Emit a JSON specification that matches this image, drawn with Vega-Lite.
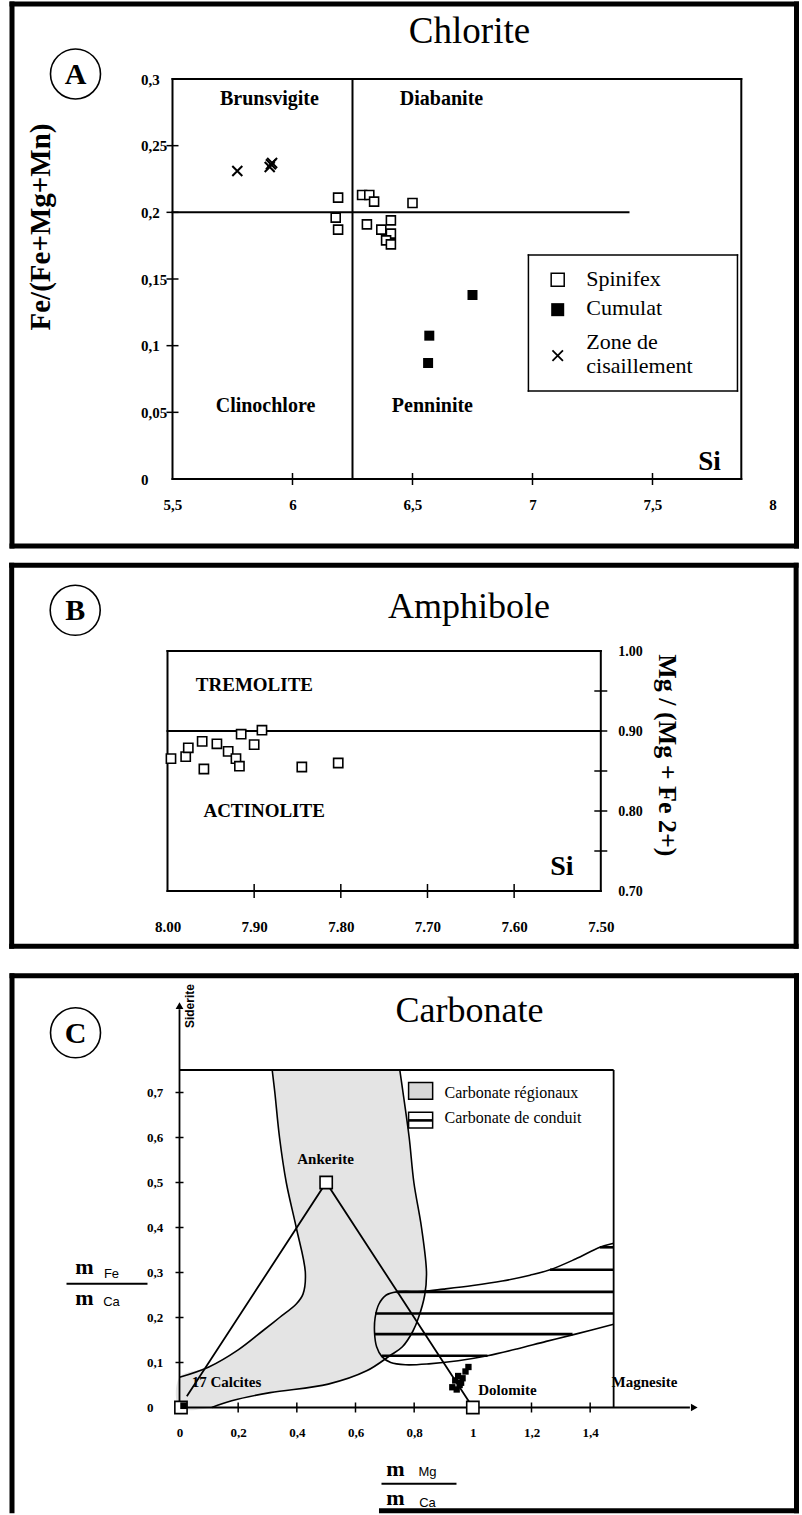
{
"$schema": "https://vega.github.io/schema/vega-lite/v6.json",
"background": "white",
"padding": {"left": 7.5, "top": 0, "right": 0, "bottom": 0},
"spacing": 11,
"config": {"view": {"stroke": null}, "font": "Liberation Serif"},
"datasets": {
"a_rules": [
{"x":4.8313,"y":0.35625,"x2":8.1,"y2":0.35625,"role":"frame"},
{"x":4.8313,"y":-0.05025,"x2":8.1,"y2":-0.05025,"role":"frame"},
{"x":4.8313,"y":0.35625,"x2":4.8313,"y2":-0.05025,"role":"frame"},
{"x":8.1,"y":0.35625,"x2":8.1,"y2":-0.05025,"role":"frame"},
{"x":5.5,"y":0,"x2":7.87,"y2":0,"role":"plot"},
{"x":5.5,"y":0.3,"x2":7.87,"y2":0.3,"role":"plot"},
{"x":5.5,"y":0,"x2":5.5,"y2":0.3,"role":"plot"},
{"x":7.87,"y":0,"x2":7.87,"y2":0.3,"role":"plot"},
{"x":6.25,"y":0,"x2":6.25,"y2":0.3,"role":"plot"},
{"x":5.5,"y":0.2,"x2":7.4,"y2":0.2,"role":"plot"},
{"x":6.983,"y":0.066,"x2":7.854,"y2":0.066,"role":"legend"},
{"x":6.983,"y":0.168,"x2":7.854,"y2":0.168,"role":"legend"},
{"x":6.983,"y":0.066,"x2":6.983,"y2":0.168,"role":"legend"},
{"x":7.854,"y":0.066,"x2":7.854,"y2":0.168,"role":"legend"}
],
"a_ticks": [
{"x":6,"y":0,"dir":"v"},{"x":6.5,"y":0,"dir":"v"},{"x":7,"y":0,"dir":"v"},{"x":7.5,"y":0,"dir":"v"},
{"x":5.5,"y":0.05,"dir":"h"},{"x":5.5,"y":0.1,"dir":"h"},{"x":5.5,"y":0.15,"dir":"h"},{"x":5.5,"y":0.2,"dir":"h"},{"x":5.5,"y":0.25,"dir":"h"}
],
"a_pts": [
{"x":6.19,"y":0.211,"group":"Spinifex","role":"data"},
{"x":6.18,"y":0.196,"group":"Spinifex","role":"data"},
{"x":6.19,"y":0.187,"group":"Spinifex","role":"data"},
{"x":6.29,"y":0.213,"group":"Spinifex","role":"data"},
{"x":6.32,"y":0.213,"group":"Spinifex","role":"data"},
{"x":6.34,"y":0.208,"group":"Spinifex","role":"data"},
{"x":6.50,"y":0.207,"group":"Spinifex","role":"data"},
{"x":6.31,"y":0.191,"group":"Spinifex","role":"data"},
{"x":6.37,"y":0.187,"group":"Spinifex","role":"data"},
{"x":6.41,"y":0.194,"group":"Spinifex","role":"data"},
{"x":6.41,"y":0.184,"group":"Spinifex","role":"data"},
{"x":6.39,"y":0.179,"group":"Spinifex","role":"data"},
{"x":6.41,"y":0.176,"group":"Spinifex","role":"data"},
{"x":6.75,"y":0.138,"group":"Cumulat","role":"data"},
{"x":6.57,"y":0.1075,"group":"Cumulat","role":"data"},
{"x":6.565,"y":0.087,"group":"Cumulat","role":"data"},
{"x":5.77,"y":0.231,"group":"Zone","role":"data"},
{"x":5.91,"y":0.236,"group":"Zone","role":"data"},
{"x":5.915,"y":0.237,"group":"Zone","role":"data"},
{"x":5.905,"y":0.234,"group":"Zone","role":"data"},
{"x":7.105,"y":0.1495,"group":"Spinifex","role":"legend"},
{"x":7.105,"y":0.127,"group":"Cumulat","role":"legend"},
{"x":7.105,"y":0.0925,"group":"Zone","role":"legend"}
],
"a_text": [
{"x":6.7375,"y":0.3353,"label":"Chlorite","role":"title"},
{"x":5.0958,"y":0.3038,"label":"A","role":"panel"},
{"x":5.904,"y":0.285,"label":"Brunsvigite","role":"region"},
{"x":6.621,"y":0.285,"label":"Diabanite","role":"region"},
{"x":5.8875,"y":0.0548,"label":"Clinochlore","role":"region"},
{"x":6.583,"y":0.0548,"label":"Penninite","role":"region"},
{"x":7.7375,"y":0.0128,"label":"Si","role":"var"},
{"x":4.954,"y":0.189,"label":"Fe/(Fe+Mg+Mn)","role":"ytitle"},
{"x":7.224,"y":0.15,"label":"Spinifex","role":"legend"},
{"x":7.224,"y":0.128,"label":"Cumulat","role":"legend"},
{"x":7.224,"y":0.10275,"label":"Zone de","role":"legend"},
{"x":7.224,"y":0.08475,"label":"cisaillement","role":"legend"}
],
"b_rules": [
{"x":8.1798,"y":1.1071,"x2":7.2746,"y2":1.1071,"role":"frame"},
{"x":8.1798,"y":0.6309,"x2":7.2746,"y2":0.6309,"role":"frame"},
{"x":8.1798,"y":1.1071,"x2":8.1798,"y2":0.6309,"role":"frame"},
{"x":7.2746,"y":1.1071,"x2":7.2746,"y2":0.6309,"role":"frame"},
{"x":8.0,"y":1.0,"x2":7.5,"y2":1.0,"role":"plot"},
{"x":8.0,"y":0.7,"x2":7.5,"y2":0.7,"role":"plot"},
{"x":8.0,"y":0.7,"x2":8.0,"y2":1.0,"role":"plot"},
{"x":7.5,"y":0.7,"x2":7.5,"y2":1.0,"role":"plot"},
{"x":8.0,"y":0.9,"x2":7.5,"y2":0.9,"role":"plot"}
],
"b_ticks": [
{"x":7.9,"y":0.7,"dir":"v"},{"x":7.8,"y":0.7,"dir":"v"},{"x":7.7,"y":0.7,"dir":"v"},{"x":7.6,"y":0.7,"dir":"v"},
{"x":7.5,"y":0.75,"dir":"h"},{"x":7.5,"y":0.8,"dir":"h"},{"x":7.5,"y":0.85,"dir":"h"},{"x":7.5,"y":0.9,"dir":"h"},{"x":7.5,"y":0.95,"dir":"h"}
],
"b_pts": [
{"x":7.996,"y":0.8655},{"x":7.979,"y":0.868},{"x":7.976,"y":0.879},{"x":7.960,"y":0.887},
{"x":7.943,"y":0.884},{"x":7.958,"y":0.8525},{"x":7.930,"y":0.8746},{"x":7.921,"y":0.8655},
{"x":7.917,"y":0.856},{"x":7.915,"y":0.896},{"x":7.900,"y":0.883},{"x":7.891,"y":0.901},
{"x":7.845,"y":0.855},{"x":7.803,"y":0.86}
],
"b_text": [
{"x":7.652,"y":1.0546,"label":"Amphibole","role":"title"},
{"x":8.1065,"y":1.0509,"label":"B","role":"panel"},
{"x":7.8997,"y":0.9571,"label":"TREMOLITE","role":"region"},
{"x":7.8885,"y":0.7999,"label":"ACTINOLITE","role":"region"},
{"x":7.5449,"y":0.73,"label":"Si","role":"var"},
{"x":7.4234,"y":0.8696,"label":"Mg / (Mg + Fe 2+)","role":"ytitle"}
],
"c_rules": [
{"x":-0.571,"y":0.9593,"x2":2.1034,"y2":0.9593,"role":"frame"},
{"x":-0.571,"y":0.9593,"x2":-0.571,"y2":-0.2296,"role":"frame"},
{"x":2.1034,"y":0.9593,"x2":2.1034,"y2":-0.2296,"role":"frame"},
{"x":0.6886,"y":-0.2296,"x2":2.1034,"y2":-0.2296,"role":"frame"},
{"x":0,"y":0.99044,"x2":0.1,"y2":0.99044,"role":"spacer"},
{"x":0,"y":0.75,"x2":1.48,"y2":0.75,"role":"plot"},
{"x":1.48,"y":0,"x2":1.48,"y2":0.75,"role":"plot"},
{"x":0,"y":0,"x2":0,"y2":0.885,"role":"plot"},
{"x":0,"y":0,"x2":1.74,"y2":0,"role":"plot"},
{"x":0.74,"y":0.257,"x2":1.48,"y2":0.257,"role":"stripe"},
{"x":0.667,"y":0.209,"x2":1.48,"y2":0.209,"role":"stripe"},
{"x":0.665,"y":0.163,"x2":1.34,"y2":0.163,"role":"stripe"},
{"x":0.69,"y":0.115,"x2":1.05,"y2":0.115,"role":"stripe"},
{"x":1.263,"y":0.306,"x2":1.48,"y2":0.306,"role":"stripe"},
{"x":1.433,"y":0.356,"x2":1.48,"y2":0.356,"role":"stripe"},
{"x":0.781,"y":0.638,"x2":0.863,"y2":0.638,"role":"stripe"},
{"x":-0.3852,"y":0.2749,"x2":-0.1091,"y2":0.2749,"role":"frac"},
{"x":0.6886,"y":-0.1696,"x2":0.9443,"y2":-0.1696,"role":"frac"}
],
"c_boxes": [
{"x":0.781,"x2":0.863,"y":0.685,"y2":0.722,"kind":"regional"},
{"x":0.781,"x2":0.863,"y":0.621,"y2":0.656,"kind":"conduit"}
],
"c_ticks": [
{"x":0.2,"y":0,"dir":"v"},{"x":0.4,"y":0,"dir":"v"},{"x":0.6,"y":0,"dir":"v"},{"x":0.8,"y":0,"dir":"v"},{"x":1.0,"y":0,"dir":"v"},{"x":1.2,"y":0,"dir":"v"},{"x":1.4,"y":0,"dir":"v"},
{"x":0,"y":0.1,"dir":"h"},{"x":0,"y":0.2,"dir":"h"},{"x":0,"y":0.3,"dir":"h"},{"x":0,"y":0.4,"dir":"h"},{"x":0,"y":0.5,"dir":"h"},{"x":0,"y":0.6,"dir":"h"},{"x":0,"y":0.7,"dir":"h"}
],
"c_lines": [
{"curve":"region","i":0,"x":0.316,"y":0.75},{"curve":"region","i":1,"x":0.325,"y":0.7},{"curve":"region","i":2,"x":0.341,"y":0.6},
{"curve":"region","i":3,"x":0.364,"y":0.5},{"curve":"region","i":4,"x":0.398,"y":0.4},{"curve":"region","i":5,"x":0.429,"y":0.3},
{"curve":"region","i":6,"x":0.421,"y":0.252},{"curve":"region","i":7,"x":0.398,"y":0.23},{"curve":"region","i":8,"x":0.341,"y":0.2},
{"curve":"region","i":9,"x":0.283,"y":0.17},{"curve":"region","i":10,"x":0.2,"y":0.128},{"curve":"region","i":11,"x":0.1,"y":0.09},
{"curve":"region","i":12,"x":0,"y":0.067},{"curve":"region","i":13,"x":0,"y":0},{"curve":"region","i":14,"x":0.11,"y":0},
{"curve":"region","i":15,"x":0.178,"y":0.015},{"curve":"region","i":16,"x":0.309,"y":0.033},{"curve":"region","i":17,"x":0.507,"y":0.052},
{"curve":"region","i":18,"x":0.638,"y":0.0815},{"curve":"region","i":19,"x":0.717,"y":0.115},{"curve":"region","i":20,"x":0.76,"y":0.135},
{"curve":"region","i":21,"x":0.796,"y":0.17},{"curve":"region","i":22,"x":0.815,"y":0.2},{"curve":"region","i":23,"x":0.836,"y":0.25},
{"curve":"region","i":24,"x":0.842,"y":0.3},{"curve":"region","i":25,"x":0.825,"y":0.4},{"curve":"region","i":26,"x":0.799,"y":0.5},
{"curve":"region","i":27,"x":0.783,"y":0.6},{"curve":"region","i":28,"x":0.762,"y":0.7},{"curve":"region","i":29,"x":0.751,"y":0.75},
{"curve":"left","i":0,"x":0.316,"y":0.75},{"curve":"left","i":1,"x":0.325,"y":0.7},{"curve":"left","i":2,"x":0.341,"y":0.6},
{"curve":"left","i":3,"x":0.364,"y":0.5},{"curve":"left","i":4,"x":0.398,"y":0.4},{"curve":"left","i":5,"x":0.429,"y":0.3},
{"curve":"left","i":6,"x":0.421,"y":0.252},{"curve":"left","i":7,"x":0.398,"y":0.23},{"curve":"left","i":8,"x":0.341,"y":0.2},
{"curve":"left","i":9,"x":0.283,"y":0.17},{"curve":"left","i":10,"x":0.2,"y":0.128},{"curve":"left","i":11,"x":0.1,"y":0.09},
{"curve":"left","i":12,"x":0,"y":0.067},
{"curve":"right","i":0,"x":0.11,"y":0},{"curve":"right","i":1,"x":0.178,"y":0.015},{"curve":"right","i":2,"x":0.309,"y":0.033},
{"curve":"right","i":3,"x":0.507,"y":0.052},{"curve":"right","i":4,"x":0.638,"y":0.0815},{"curve":"right","i":5,"x":0.717,"y":0.115},
{"curve":"right","i":6,"x":0.76,"y":0.135},{"curve":"right","i":7,"x":0.796,"y":0.17},{"curve":"right","i":8,"x":0.815,"y":0.2},
{"curve":"right","i":9,"x":0.836,"y":0.25},{"curve":"right","i":10,"x":0.842,"y":0.3},{"curve":"right","i":11,"x":0.825,"y":0.4},
{"curve":"right","i":12,"x":0.799,"y":0.5},{"curve":"right","i":13,"x":0.783,"y":0.6},{"curve":"right","i":14,"x":0.762,"y":0.7},
{"curve":"right","i":15,"x":0.751,"y":0.75},
{"curve":"conduit","i":0,"x":1.48,"y":0.365},{"curve":"conduit","i":1,"x":1.433,"y":0.356},{"curve":"conduit","i":2,"x":1.35,"y":0.33},
{"curve":"conduit","i":3,"x":1.263,"y":0.306},{"curve":"conduit","i":4,"x":1.195,"y":0.294},{"curve":"conduit","i":5,"x":1.1,"y":0.281},
{"curve":"conduit","i":6,"x":1.0,"y":0.271},{"curve":"conduit","i":7,"x":0.9,"y":0.263},{"curve":"conduit","i":8,"x":0.83,"y":0.258},
{"curve":"conduit","i":9,"x":0.74,"y":0.257},{"curve":"conduit","i":10,"x":0.705,"y":0.25},{"curve":"conduit","i":11,"x":0.68,"y":0.23},
{"curve":"conduit","i":12,"x":0.667,"y":0.2},{"curve":"conduit","i":13,"x":0.665,"y":0.165},{"curve":"conduit","i":14,"x":0.672,"y":0.135},
{"curve":"conduit","i":15,"x":0.69,"y":0.113},{"curve":"conduit","i":16,"x":0.72,"y":0.1},{"curve":"conduit","i":17,"x":0.77,"y":0.095},
{"curve":"conduit","i":18,"x":0.85,"y":0.097},{"curve":"conduit","i":19,"x":0.95,"y":0.104},{"curve":"conduit","i":20,"x":1.05,"y":0.115},
{"curve":"conduit","i":21,"x":1.15,"y":0.13},{"curve":"conduit","i":22,"x":1.25,"y":0.147},{"curve":"conduit","i":23,"x":1.35,"y":0.163},
{"curve":"conduit","i":24,"x":1.48,"y":0.185},
{"curve":"tri","i":0,"x":0.025,"y":0.025},{"curve":"tri","i":1,"x":0.5,"y":0.5},{"curve":"tri","i":2,"x":1.0,"y":0.0}
],
"c_pts": [
{"x":0.93,"y":0.045,"kind":"filled"},{"x":0.94,"y":0.06,"kind":"filled"},{"x":0.955,"y":0.05,"kind":"filled"},
{"x":0.95,"y":0.07,"kind":"filled"},{"x":0.965,"y":0.065,"kind":"filled"},{"x":0.975,"y":0.08,"kind":"filled"},
{"x":0.945,"y":0.04,"kind":"filled"},{"x":0.96,"y":0.055,"kind":"filled"},{"x":0.985,"y":0.09,"kind":"filled"},
{"x":0.5,"y":0.5,"kind":"open"},{"x":1.0,"y":0.0,"kind":"open"},{"x":0.005,"y":0.0,"kind":"open"},
{"x":0.014,"y":0.004,"kind":"calcite"},
{"x":0,"y":0.893,"kind":"up"},{"x":1.755,"y":0,"kind":"right"}
],
"c_text": [
{"x":0.9887,"y":0.881,"label":"Carbonate","role":"title"},
{"x":-0.3545,"y":0.8327,"label":"C","role":"panel"},
{"x":0.0341,"y":0.892,"label":"Siderite","role":"side"},
{"x":0.498,"y":0.552,"label":"Ankerite","role":"mineral"},
{"x":0.16,"y":0.057,"label":"17 Calcites","role":"mineral"},
{"x":1.118,"y":0.039,"label":"Dolomite","role":"mineral"},
{"x":1.585,"y":0.057,"label":"Magnesite","role":"mineral"},
{"x":0.9035,"y":0.70,"label":"Carbonate régionaux","role":"legend"},
{"x":0.9035,"y":0.644,"label":"Carbonate de conduit","role":"legend"},
{"x":-0.3239,"y":0.3118,"label":"m","role":"fm"},
{"x":-0.3239,"y":0.2433,"label":"m","role":"fm"},
{"x":0.7364,"y":-0.1362,"label":"m","role":"fm"},
{"x":0.7364,"y":-0.2007,"label":"m","role":"fm"},
{"x":-0.2318,"y":0.2962,"label":"Fe","role":"fs"},
{"x":-0.2318,"y":0.2344,"label":"Ca","role":"fs"},
{"x":0.8455,"y":-0.1429,"label":"Mg","role":"fs"},
{"x":0.8455,"y":-0.2118,"label":"Ca","role":"fs"}
]
},
"vconcat": [
{
"width": 605, "height": 400,
"encoding": {
"x": {"field": "x", "type": "quantitative", "scale": {"domain": [5.47917, 8], "nice": false, "zero": false},
"axis": {"title": null, "values": [5.5,6,6.5,7,7.5,8], "ticks": false, "domain": false, "grid": false,
"labelExpr": "replace(format(datum.value, '.2~f'), '.', ',')", "labelFont": "Liberation Serif", "labelFontWeight": "bold",
"labelFontSize": 15, "labelColor": "black", "labelPadding": 18, "labelFlush": false, "labelOverlap": false}},
"y": {"field": "y", "type": "quantitative", "scale": {"domain": [0, 0.3], "nice": false, "zero": false},
"axis": {"title": null, "values": [0,0.05,0.1,0.15,0.2,0.25,0.3], "ticks": false, "domain": false, "grid": false,
"labelExpr": "replace(format(datum.value, '.2~f'), '.', ',')", "labelFont": "Liberation Serif", "labelFontWeight": "bold",
"labelFontSize": 15, "labelColor": "black", "labelAlign": "left", "labelPadding": 27, "labelFlush": false, "labelOverlap": false}}
},
"layer": [
{"data": {"name": "a_rules"}, "transform": [{"filter": "datum.role == 'frame'"}],
 "mark": {"type": "rule", "color": "black", "strokeWidth": 5, "strokeCap": "square"},
 "encoding": {"x2": {"field": "x2"}, "y2": {"field": "y2"}}},
{"data": {"name": "a_rules"}, "transform": [{"filter": "datum.role == 'plot'"}],
 "mark": {"type": "rule", "color": "black", "strokeWidth": 2, "strokeCap": "square"},
 "encoding": {"x2": {"field": "x2"}, "y2": {"field": "y2"}}},
{"data": {"name": "a_rules"}, "transform": [{"filter": "datum.role == 'legend'"}],
 "mark": {"type": "rule", "color": "black", "strokeWidth": 1.5, "strokeCap": "square"},
 "encoding": {"x2": {"field": "x2"}, "y2": {"field": "y2"}}},
{"data": {"name": "a_ticks"}, "transform": [{"filter": "datum.dir == 'v'"}],
 "mark": {"type": "tick", "orient": "vertical", "size": 12, "thickness": 1.5, "color": "black", "opacity": 1}},
{"data": {"name": "a_ticks"}, "transform": [{"filter": "datum.dir == 'h'"}],
 "mark": {"type": "tick", "orient": "horizontal", "size": 12, "thickness": 1.5, "color": "black", "opacity": 1}},
{"data": {"name": "a_pts"}, "transform": [{"filter": "datum.group == 'Spinifex' && datum.role == 'data'"}],
 "mark": {"type": "point", "shape": "square", "size": 81, "filled": true, "fill": "white", "stroke": "black", "strokeWidth": 1.6, "opacity": 1}},
{"data": {"name": "a_pts"}, "transform": [{"filter": "datum.group == 'Cumulat' && datum.role == 'data'"}],
 "mark": {"type": "point", "shape": "square", "size": 100, "filled": true, "color": "black", "opacity": 1}},
{"data": {"name": "a_pts"}, "transform": [{"filter": "datum.group == 'Zone' && datum.role == 'data'"}],
 "mark": {"type": "point", "shape": "M-1,-1L1,1M-1,1L1,-1", "size": 100, "filled": false, "stroke": "black", "strokeWidth": 2, "opacity": 1}},
{"data": {"name": "a_pts"}, "transform": [{"filter": "datum.group == 'Spinifex' && datum.role == 'legend'"}],
 "mark": {"type": "point", "shape": "square", "size": 170, "filled": true, "fill": "white", "stroke": "black", "strokeWidth": 1.5, "opacity": 1}},
{"data": {"name": "a_pts"}, "transform": [{"filter": "datum.group == 'Cumulat' && datum.role == 'legend'"}],
 "mark": {"type": "point", "shape": "square", "size": 170, "filled": true, "color": "black", "opacity": 1}},
{"data": {"name": "a_pts"}, "transform": [{"filter": "datum.group == 'Zone' && datum.role == 'legend'"}],
 "mark": {"type": "point", "shape": "M-1,-1L1,1M-1,1L1,-1", "size": 110, "filled": false, "stroke": "black", "strokeWidth": 1.8, "opacity": 1}},
{"data": {"name": "a_text"}, "transform": [{"filter": "datum.role == 'panel'"}],
 "mark": {"type": "point", "shape": "circle", "size": 2500, "filled": false, "stroke": "black", "strokeWidth": 1.6, "opacity": 1}},
{"data": {"name": "a_text"}, "transform": [{"filter": "datum.role == 'panel'"}],
 "mark": {"type": "text", "font": "Liberation Serif", "fontSize": 30, "fontWeight": "bold", "color": "black", "baseline": "middle", "dy": 1},
 "encoding": {"text": {"field": "label"}}},
{"data": {"name": "a_text"}, "transform": [{"filter": "datum.role == 'title'"}],
 "mark": {"type": "text", "font": "Liberation Serif", "fontSize": 37, "color": "black", "baseline": "middle"},
 "encoding": {"text": {"field": "label"}}},
{"data": {"name": "a_text"}, "transform": [{"filter": "datum.role == 'region'"}],
 "mark": {"type": "text", "font": "Liberation Serif", "fontSize": 20, "fontWeight": "bold", "color": "black", "baseline": "middle"},
 "encoding": {"text": {"field": "label"}}},
{"data": {"name": "a_text"}, "transform": [{"filter": "datum.role == 'var'"}],
 "mark": {"type": "text", "font": "Liberation Serif", "fontSize": 27, "fontWeight": "bold", "color": "black", "baseline": "middle"},
 "encoding": {"text": {"field": "label"}}},
{"data": {"name": "a_text"}, "transform": [{"filter": "datum.role == 'ytitle'"}],
 "mark": {"type": "text", "font": "Liberation Serif", "fontSize": 29, "fontWeight": "bold", "color": "black", "baseline": "middle", "angle": 270},
 "encoding": {"text": {"field": "label"}}},
{"data": {"name": "a_text"}, "transform": [{"filter": "datum.role == 'legend'"}],
 "mark": {"type": "text", "font": "Liberation Serif", "fontSize": 22, "color": "black", "baseline": "middle", "align": "left"},
 "encoding": {"text": {"field": "label"}}}
]
},
{
"width": 433.3, "height": 240,
"encoding": {
"x": {"field": "x", "type": "quantitative", "scale": {"domain": [7.5, 8.0], "reverse": true, "nice": false, "zero": false},
"axis": {"title": null, "values": [8.0,7.9,7.8,7.7,7.6,7.5], "ticks": false, "domain": false, "grid": false,
"labelExpr": "format(datum.value, '.2f')", "labelFont": "Liberation Serif", "labelFontWeight": "bold",
"labelFontSize": 15, "labelColor": "black", "labelPadding": 28, "labelFlush": false, "labelOverlap": false}},
"y": {"field": "y", "type": "quantitative", "scale": {"domain": [0.7, 1.0], "nice": false, "zero": false},
"axis": {"title": null, "orient": "right", "values": [0.7,0.8,0.9,1.0], "ticks": false, "domain": false, "grid": false,
"labelExpr": "format(datum.value, '.2f')", "labelFont": "Liberation Serif", "labelFontWeight": "bold",
"labelFontSize": 14, "labelColor": "black", "labelPadding": 17, "labelFlush": false, "labelOverlap": false}}
},
"layer": [
{"data": {"name": "b_rules"}, "transform": [{"filter": "datum.role == 'frame'"}],
 "mark": {"type": "rule", "color": "black", "strokeWidth": 5, "strokeCap": "square"},
 "encoding": {"x2": {"field": "x2"}, "y2": {"field": "y2"}}},
{"data": {"name": "b_rules"}, "transform": [{"filter": "datum.role == 'plot'"}],
 "mark": {"type": "rule", "color": "black", "strokeWidth": 2, "strokeCap": "square"},
 "encoding": {"x2": {"field": "x2"}, "y2": {"field": "y2"}}},
{"data": {"name": "b_ticks"}, "transform": [{"filter": "datum.dir == 'v'"}],
 "mark": {"type": "tick", "orient": "vertical", "size": 14, "thickness": 1.5, "color": "black", "opacity": 1}},
{"data": {"name": "b_ticks"}, "transform": [{"filter": "datum.dir == 'h'"}],
 "mark": {"type": "tick", "orient": "horizontal", "size": 13, "thickness": 1.5, "color": "black", "opacity": 1}},
{"data": {"name": "b_pts"},
 "mark": {"type": "point", "shape": "square", "size": 85, "filled": true, "fill": "white", "stroke": "black", "strokeWidth": 1.6, "opacity": 1}},
{"data": {"name": "b_text"}, "transform": [{"filter": "datum.role == 'panel'"}],
 "mark": {"type": "point", "shape": "circle", "size": 2500, "filled": false, "stroke": "black", "strokeWidth": 1.6, "opacity": 1}},
{"data": {"name": "b_text"}, "transform": [{"filter": "datum.role == 'panel'"}],
 "mark": {"type": "text", "font": "Liberation Serif", "fontSize": 30, "fontWeight": "bold", "color": "black", "baseline": "middle", "dy": 1},
 "encoding": {"text": {"field": "label"}}},
{"data": {"name": "b_text"}, "transform": [{"filter": "datum.role == 'title'"}],
 "mark": {"type": "text", "font": "Liberation Serif", "fontSize": 36, "color": "black", "baseline": "middle"},
 "encoding": {"text": {"field": "label"}}},
{"data": {"name": "b_text"}, "transform": [{"filter": "datum.role == 'region'"}],
 "mark": {"type": "text", "font": "Liberation Serif", "fontSize": 19, "fontWeight": "bold", "color": "black", "baseline": "middle"},
 "encoding": {"text": {"field": "label"}}},
{"data": {"name": "b_text"}, "transform": [{"filter": "datum.role == 'var'"}],
 "mark": {"type": "text", "font": "Liberation Serif", "fontSize": 28, "fontWeight": "bold", "color": "black", "baseline": "middle"},
 "encoding": {"text": {"field": "label"}}},
{"data": {"name": "b_text"}, "transform": [{"filter": "datum.role == 'ytitle'"}],
 "mark": {"type": "text", "font": "Liberation Serif", "fontSize": 26, "fontWeight": "bold", "color": "black", "baseline": "middle", "angle": 90},
 "encoding": {"text": {"field": "label"}}}
]
},
{
"width": 452, "height": 337.5,
"encoding": {
"x": {"field": "x", "type": "quantitative", "scale": {"domain": [-0.04091, 1.5], "nice": false, "zero": false},
"axis": {"title": null, "values": [0,0.2,0.4,0.6,0.8,1,1.2,1.4], "ticks": false, "domain": false, "grid": false,
"labelExpr": "replace(format(datum.value, '.1~f'), '.', ',')", "labelFont": "Liberation Serif", "labelFontWeight": "bold",
"labelFontSize": 13, "labelColor": "black", "labelPadding": 19, "labelFlush": false, "labelOverlap": false}},
"y": {"field": "y", "type": "quantitative", "scale": {"domain": [0, 0.75], "nice": false, "zero": false},
"axis": {"title": null, "values": [0,0.1,0.2,0.3,0.4,0.5,0.6,0.7], "ticks": false, "domain": false, "grid": false,
"labelExpr": "replace(format(datum.value, '.1~f'), '.', ',')", "labelFont": "Liberation Serif", "labelFontWeight": "bold",
"labelFontSize": 13, "labelColor": "black", "labelAlign": "left", "labelPadding": 21, "labelFlush": false, "labelOverlap": false}}
},
"layer": [
{"data": {"name": "c_lines"}, "transform": [{"filter": "datum.curve == 'region'"}],
 "mark": {"type": "line", "fill": "#e4e4e4", "strokeOpacity": 0, "interpolate": "catmull-rom"},
 "encoding": {"order": {"field": "i", "type": "quantitative"}}},
{"data": {"name": "c_lines"}, "transform": [{"filter": "datum.curve == 'left' || datum.curve == 'right' || datum.curve == 'conduit'"}],
 "mark": {"type": "line", "color": "black", "strokeWidth": 1.6, "interpolate": "catmull-rom"},
 "encoding": {"detail": {"field": "curve"}, "order": {"field": "i", "type": "quantitative"}}},
{"data": {"name": "c_lines"}, "transform": [{"filter": "datum.curve == 'tri'"}],
 "mark": {"type": "line", "color": "black", "strokeWidth": 1.8},
 "encoding": {"order": {"field": "i", "type": "quantitative"}}},
{"data": {"name": "c_rules"}, "transform": [{"filter": "datum.role == 'frame'"}],
 "mark": {"type": "rule", "color": "black", "strokeWidth": 5, "strokeCap": "square"},
 "encoding": {"x2": {"field": "x2"}, "y2": {"field": "y2"}}},
{"data": {"name": "c_rules"}, "transform": [{"filter": "datum.role == 'spacer'"}],
 "mark": {"type": "rule", "color": "white", "strokeWidth": 1},
 "encoding": {"x2": {"field": "x2"}, "y2": {"field": "y2"}}},
{"data": {"name": "c_rules"}, "transform": [{"filter": "datum.role == 'plot'"}],
 "mark": {"type": "rule", "color": "black", "strokeWidth": 1.8},
 "encoding": {"x2": {"field": "x2"}, "y2": {"field": "y2"}}},
{"data": {"name": "c_rules"}, "transform": [{"filter": "datum.role == 'stripe'"}],
 "mark": {"type": "rule", "color": "black", "strokeWidth": 2.6},
 "encoding": {"x2": {"field": "x2"}, "y2": {"field": "y2"}}},
{"data": {"name": "c_rules"}, "transform": [{"filter": "datum.role == 'frac'"}],
 "mark": {"type": "rule", "color": "black", "strokeWidth": 2},
 "encoding": {"x2": {"field": "x2"}, "y2": {"field": "y2"}}},
{"data": {"name": "c_boxes"}, "transform": [{"filter": "datum.kind == 'regional'"}],
 "mark": {"type": "rect", "fill": "#d8d8d8", "stroke": "black", "strokeWidth": 1.5},
 "encoding": {"x2": {"field": "x2"}, "y2": {"field": "y2"}}},
{"data": {"name": "c_boxes"}, "transform": [{"filter": "datum.kind == 'conduit'"}],
 "mark": {"type": "rect", "fill": "transparent", "stroke": "black", "strokeWidth": 1.5},
 "encoding": {"x2": {"field": "x2"}, "y2": {"field": "y2"}}},
{"data": {"name": "c_ticks"}, "transform": [{"filter": "datum.dir == 'v'"}],
 "mark": {"type": "tick", "orient": "vertical", "size": 10, "thickness": 1.5, "color": "black", "opacity": 1}},
{"data": {"name": "c_ticks"}, "transform": [{"filter": "datum.dir == 'h'"}],
 "mark": {"type": "tick", "orient": "horizontal", "size": 8, "thickness": 1.5, "color": "black", "opacity": 1}},
{"data": {"name": "c_pts"}, "transform": [{"filter": "datum.kind == 'filled'"}],
 "mark": {"type": "point", "shape": "square", "size": 40, "filled": true, "color": "black", "opacity": 1}},
{"data": {"name": "c_pts"}, "transform": [{"filter": "datum.kind == 'open'"}],
 "mark": {"type": "point", "shape": "square", "size": 150, "filled": true, "fill": "white", "stroke": "black", "strokeWidth": 1.6, "opacity": 1}},
{"data": {"name": "c_pts"}, "transform": [{"filter": "datum.kind == 'calcite'"}],
 "mark": {"type": "point", "shape": "square", "size": 45, "filled": true, "color": "black", "opacity": 1}},
{"data": {"name": "c_pts"}, "transform": [{"filter": "datum.kind == 'up'"}],
 "mark": {"type": "point", "shape": "triangle-up", "size": 60, "filled": true, "color": "black", "opacity": 1}},
{"data": {"name": "c_pts"}, "transform": [{"filter": "datum.kind == 'right'"}],
 "mark": {"type": "point", "shape": "triangle-right", "size": 60, "filled": true, "color": "black", "opacity": 1}},
{"data": {"name": "c_text"}, "transform": [{"filter": "datum.role == 'panel'"}],
 "mark": {"type": "point", "shape": "circle", "size": 2500, "filled": false, "stroke": "black", "strokeWidth": 1.6, "opacity": 1}},
{"data": {"name": "c_text"}, "transform": [{"filter": "datum.role == 'panel'"}],
 "mark": {"type": "text", "font": "Liberation Serif", "fontSize": 30, "fontWeight": "bold", "color": "black", "baseline": "middle", "dy": 1},
 "encoding": {"text": {"field": "label"}}},
{"data": {"name": "c_text"}, "transform": [{"filter": "datum.role == 'title'"}],
 "mark": {"type": "text", "font": "Liberation Serif", "fontSize": 36, "color": "black", "baseline": "middle"},
 "encoding": {"text": {"field": "label"}}},
{"data": {"name": "c_text"}, "transform": [{"filter": "datum.role == 'side'"}],
 "mark": {"type": "text", "font": "Liberation Sans", "fontSize": 12, "fontWeight": "bold", "color": "black", "baseline": "middle", "angle": 270},
 "encoding": {"text": {"field": "label"}}},
{"data": {"name": "c_text"}, "transform": [{"filter": "datum.role == 'mineral'"}],
 "mark": {"type": "text", "font": "Liberation Serif", "fontSize": 15, "fontWeight": "bold", "color": "black", "baseline": "middle"},
 "encoding": {"text": {"field": "label"}}},
{"data": {"name": "c_text"}, "transform": [{"filter": "datum.role == 'legend'"}],
 "mark": {"type": "text", "font": "Liberation Serif", "fontSize": 16, "color": "black", "baseline": "middle", "align": "left"},
 "encoding": {"text": {"field": "label"}}},
{"data": {"name": "c_text"}, "transform": [{"filter": "datum.role == 'fm'"}],
 "mark": {"type": "text", "font": "Liberation Serif", "fontSize": 22, "fontWeight": "bold", "color": "black", "baseline": "middle"},
 "encoding": {"text": {"field": "label"}}},
{"data": {"name": "c_text"}, "transform": [{"filter": "datum.role == 'fs'"}],
 "mark": {"type": "text", "font": "Liberation Sans", "fontSize": 13, "color": "black", "baseline": "middle"},
 "encoding": {"text": {"field": "label"}}}
]
}
]
}
